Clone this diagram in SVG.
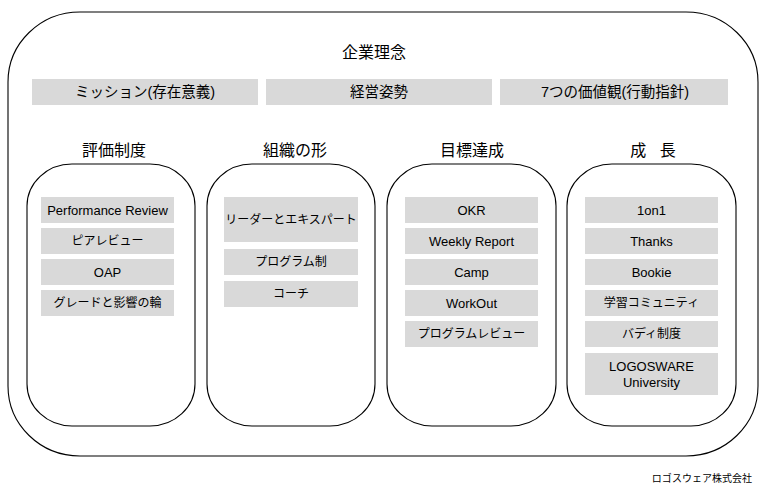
<svg xmlns="http://www.w3.org/2000/svg" width="762" height="492" viewBox="0 0 762 492">
<style>
text{font-family:"Liberation Sans","Noto Sans CJK JP",Arial,sans-serif;fill:#000;text-anchor:middle;dominant-baseline:central}
.frame{fill:none;stroke:#000;stroke-width:1.1}
.box{fill:#d9d9d9}
.t{font-size:13px}
.j{font-size:12px}
.r{font-size:14.5px}
.h{font-size:16px}
.f{font-size:10px;text-anchor:end}
</style>
<rect width="762" height="492" fill="#fff"/>
<g id="philosophy">
<rect class="frame" x="8" y="12" width="750" height="444" rx="72" ry="70"/>
<text class="h" x="374" y="52">企業理念</text>
</g>
<g id="mission"><rect class="box" x="32" y="79" width="226" height="26"/><text class="r" x="145" y="92">ミッション(存在意義)</text></g>
<g id="stance"><rect class="box" x="266" y="79" width="226" height="26"/><text class="r" x="379" y="92">経営姿勢</text></g>
<g id="values"><rect class="box" x="500" y="79" width="228" height="26"/><text class="r" x="615" y="92">7つの価値観(行動指針)</text></g>

<g id="col-evaluation">
<text class="h" x="114" y="150">評価制度</text>
<rect class="frame" x="27" y="164" width="168" height="262" rx="45" ry="42"/>
<rect class="box" x="41" y="197" width="133" height="26"/><text class="t" x="107.5" y="210">Performance Review</text>
<rect class="box" x="41" y="228" width="133" height="26"/><text class="j" x="107.5" y="241">ピアレビュー</text>
<rect class="box" x="41" y="259" width="133" height="26"/><text class="t" x="107.5" y="272">OAP</text>
<rect class="box" x="41" y="290" width="133" height="26"/><text class="j" x="107.5" y="303">グレードと影響の輪</text>
</g>

<g id="col-organization">
<text class="h" x="295" y="150">組織の形</text>
<rect class="frame" x="207" y="164" width="168" height="262" rx="45" ry="42"/>
<rect class="box" x="224" y="197" width="134" height="45"/><text class="j" x="291" y="219.5">リーダーとエキスパート</text>
<rect class="box" x="224" y="249" width="134" height="26"/><text class="j" x="291" y="262">プログラム制</text>
<rect class="box" x="224" y="281" width="134" height="26"/><text class="j" x="291" y="294">コーチ</text>
</g>

<g id="col-goals">
<text class="h" x="472" y="150">目標達成</text>
<rect class="frame" x="387" y="164" width="169" height="262" rx="45" ry="42"/>
<rect class="box" x="405" y="197" width="133" height="26"/><text class="t" x="471.5" y="210">OKR</text>
<rect class="box" x="405" y="228" width="133" height="26"/><text class="t" x="471.5" y="241">Weekly Report</text>
<rect class="box" x="405" y="259" width="133" height="26"/><text class="t" x="471.5" y="272">Camp</text>
<rect class="box" x="405" y="290" width="133" height="26"/><text class="t" x="471.5" y="303">WorkOut</text>
<rect class="box" x="405" y="321" width="133" height="26"/><text class="j" x="471.5" y="334">プログラムレビュー</text>
</g>

<g id="col-growth">
<text class="h" x="653" y="150" xml:space="preserve">成   長</text>
<rect class="frame" x="567" y="164" width="169" height="262" rx="45" ry="42"/>
<rect class="box" x="585" y="197" width="133" height="26"/><text class="t" x="651.5" y="210">1on1</text>
<rect class="box" x="585" y="228" width="133" height="26"/><text class="t" x="651.5" y="241">Thanks</text>
<rect class="box" x="585" y="259" width="133" height="26"/><text class="t" x="651.5" y="272">Bookie</text>
<rect class="box" x="585" y="290" width="133" height="26"/><text class="j" x="651.5" y="303">学習コミュニティ</text>
<rect class="box" x="585" y="321" width="133" height="26"/><text class="j" x="651.5" y="334">バディ制度</text>
<rect class="box" x="585" y="353" width="133" height="42"/><text class="t" x="651.5" y="366">LOGOSWARE</text><text class="t" x="651.5" y="382">University</text>
</g>

<g id="footer"><text class="f" x="752" y="478">ロゴスウェア株式会社</text></g>
<g id="connectors"></g>
</svg>
